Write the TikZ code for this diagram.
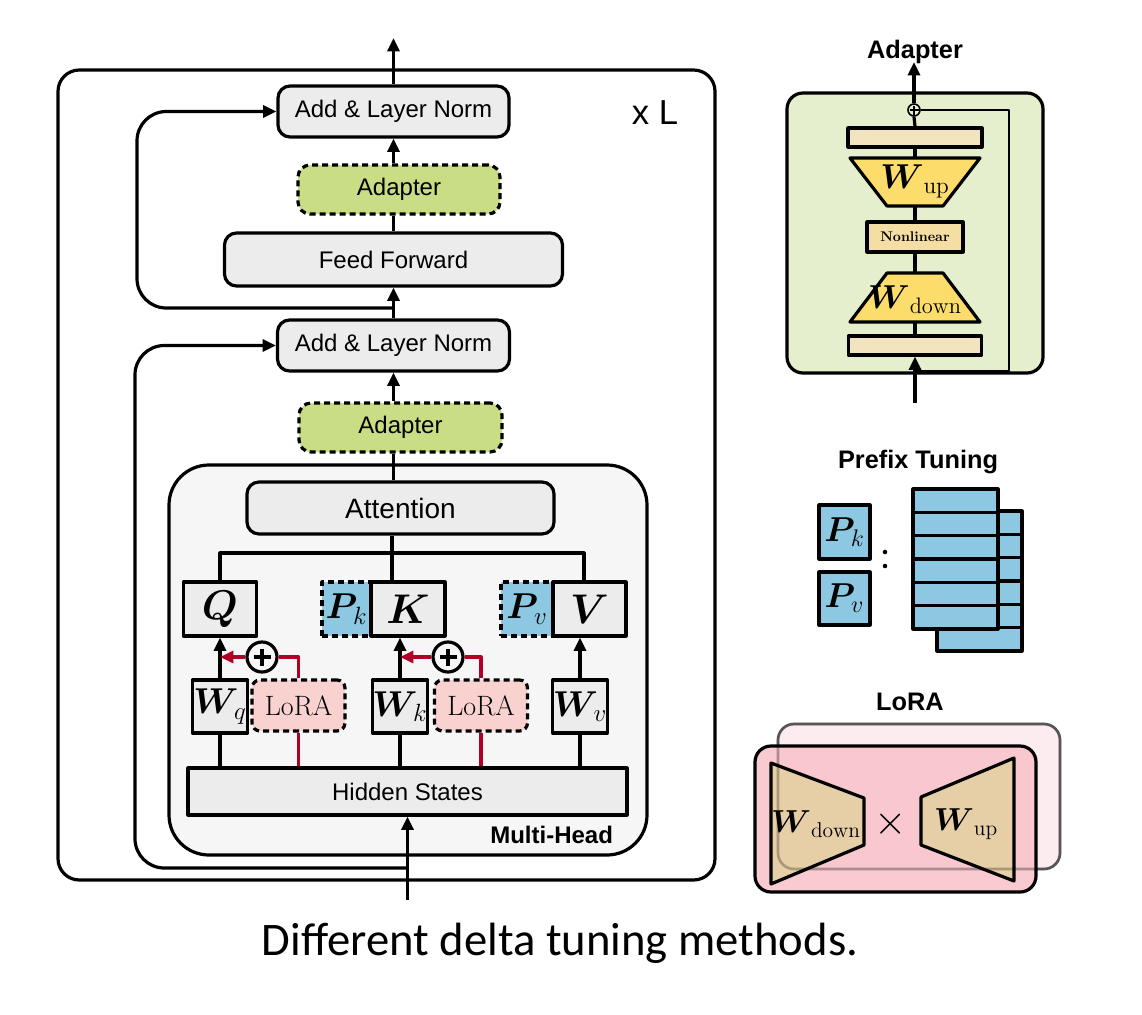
\documentclass[tikz,border=0pt]{standalone}
\usepackage{amsmath}
\usepackage{graphicx}
\usepackage{fontspec}
\setsansfont{Liberation Sans}
\newfontfamily\capfont{Carlito}
\usetikzlibrary{arrows.meta}
\newcommand{\sclmath}[2]{\scalebox{#1}{\fontsize{20}{20}\selectfont$#2$}}
\definecolor{boxgray}{RGB}{236,236,236}
\definecolor{mhgray}{RGB}{246,246,246}
\definecolor{adgreen}{RGB}{201,221,133}
\definecolor{lorapink}{RGB}{249,210,208}
\definecolor{pblue}{RGB}{140,200,226}
\definecolor{lred}{RGB}{176,0,38}
\definecolor{adbg}{RGB}{230,239,205}
\definecolor{beige}{RGB}{243,228,192}
\definecolor{wyellow}{RGB}{252,221,108}
\definecolor{nlbeige}{RGB}{244,222,164}
\definecolor{lpink}{RGB}{249,196,203}
\definecolor{lpinkback}{RGB}{253,236,239}
\definecolor{wtan}{RGB}{229,207,163}
\begin{document}
\begin{tikzpicture}[x=0.75pt,y=-0.75pt,line width=2.4pt,line join=round,
  >={Triangle[length=10pt,width=9pt]},
  txt/.style={font=\sffamily\fontsize{18}{20}\selectfont},
  rbox/.style={draw,fill=boxgray,rounded corners=9pt,inner sep=0pt,txt},
  adbox/.style={rbox,fill=adgreen,dash pattern=on 4.5pt off 3pt},
  sqbox/.style={draw,fill=boxgray,inner sep=0pt},
  pbox/.style={draw,fill=pblue,inner sep=0pt,dash pattern=on 4.5pt off 3pt},
  lbox/.style={draw,fill=lorapink,rounded corners=6pt,inner sep=0pt,dash pattern=on 4.5pt off 3pt,font=\fontsize{21}{22}\selectfont},
  redl/.style={draw=lred,line width=2.4pt},
  pluscirc/.style={circle,draw,inner sep=0pt,minimum size=22.5pt},
  ttl/.style={font=\sffamily\bfseries\fontsize{19}{20}\selectfont},
]
\fill[white] (0,0) rectangle (1142,1014);
\useasboundingbox (0,0) rectangle (1142,1014);

% ---------------- left: transformer layer ----------------
\node[draw,rounded corners=16pt,minimum width=492.75pt,minimum height=607.5pt,inner sep=0pt] (outer) at (386.5,475) {};
\node[draw,fill=mhgray,rounded corners=30pt,minimum width=358.5pt,minimum height=292.5pt,inner sep=0pt] (mh) at (408,660) {};
\node[anchor=base east,font=\sffamily\bfseries\fontsize{18}{18}\selectfont] (mhl) at (619,843) {Multi-Head};
\node[font=\sffamily\fontsize{26}{26}\selectfont] (xl) at (655,113) {x L};

\node[rbox,minimum width=173.25pt,minimum height=38.25pt] (ln1) at (393.5,111.5) {Add \& Layer Norm};
\node[adbox,minimum width=151.5pt,minimum height=36.75pt] (ad1) at (399,189.5) {Adapter};
\node[rbox,minimum width=253.5pt,minimum height=39.75pt] (ff) at (393.5,259.5) {Feed Forward};
\node[rbox,minimum width=174pt,minimum height=38.25pt] (ln2) at (393.5,345.5) {Add \& Layer Norm};
\node[adbox,minimum width=152.25pt,minimum height=36.75pt] (ad2) at (400.5,427.5) {Adapter};
\node[rbox,minimum width=230.25pt,minimum height=39pt,font=\sffamily\fontsize{21}{22}\selectfont] (att) at (400.5,508) {Attention};

\node[sqbox,minimum width=54.75pt,minimum height=40.5pt] (q) at (220,609) {\sclmath{1.5}{\boldsymbol{Q}}};
\node[pbox,minimum width=36.75pt,minimum height=40.5pt] (pk) at (346.5,609) {\sclmath{1.3}{\boldsymbol{P}_{\!k}}};
\node[sqbox,minimum width=55.5pt,minimum height=40.5pt] (k) at (408,609) {\sclmath{1.5}{\boldsymbol{K}}};
\node[pbox,minimum width=39pt,minimum height=40.5pt] (pv) at (527,609) {\sclmath{1.3}{\boldsymbol{P}_{\!v}}};
\node[sqbox,minimum width=54.75pt,minimum height=40.5pt] (v) at (589.5,609) {\sclmath{1.5}{\boldsymbol{V}}};

\node[sqbox,minimum width=41.25pt,minimum height=39.75pt] (wq) at (220,706.5) {\sclmath{1.3}{\boldsymbol{W}_{\!q}}};
\node[lbox,minimum width=69.75pt,minimum height=38.25pt] (lora1) at (298.5,705.5) {LoRA};
\node[sqbox,minimum width=40.5pt,minimum height=39.75pt] (wk) at (400,706.5) {\sclmath{1.3}{\boldsymbol{W}_{\!k}}};
\node[lbox,minimum width=69.75pt,minimum height=38.25pt] (lora2) at (481,705.5) {LoRA};
\node[sqbox,minimum width=40.5pt,minimum height=39.75pt] (wv) at (580,706.5) {\sclmath{1.3}{\boldsymbol{W}_{\!v}}};
\node[sqbox,txt,minimum width=329.25pt,minimum height=35.25pt] (hs) at (407.5,791.5) {Hidden States};

\node[pluscirc] (p1) at (262,657) {};
\node[pluscirc] (p2) at (448,657) {};
\draw (p1.center) ++(-8.5,0) -- ++(17,0) (p1.center) ++(0,-8.5) -- ++(0,17);
\draw (p2.center) ++(-8.5,0) -- ++(17,0) (p2.center) ++(0,-8.5) -- ++(0,17);

% coordinates for free ends
\coordinate (out) at (393.5,38);
\coordinate (in) at (407.5,900);
\coordinate (r1) at (393.5,308);
\coordinate (r2) at (407.5,868);
\coordinate (bar) at (392,553);
\coordinate (vtop) at (584,553);

% main flow
\draw[->] (ln1.north) -- (out);
\draw[->] (ad1.north -| ln1.south) -- (ln1.south);
\draw (ff.north) -- (ff.north |- ad1.south);
\draw[->] (ln2.north) -- (ln2.north |- ff.south);
\draw[->] (ad2.north -| ln2.south) -- (ln2.south);
\draw (att.north -| ln2.south) -- (ad2.south -| ln2.south);
\draw[->,rounded corners=22pt] (r1) -| (137,200) |- (ln1.west);
\draw[->,rounded corners=22pt] (r2) -| (135,600) |- (ln2.west);
\draw[->] (in) -- (hs.south);

% attention fan-out
\draw (att.south -| bar) -- (bar |- k.north);
\draw (q.north) |- (vtop) -- (vtop |- v.north);

% projections
\draw[->] (wq.north) -- (wq.north |- q.south);
\draw[->] (wk.north) -- (wk.north |- k.south);
\draw[->] (wv.north) -- (wv.north |- v.south);
\draw (wq.south) -- (wq.south |- hs.north);
\draw (wk.south) -- (wk.south |- hs.north);
\draw (wv.south) -- (wv.south |- hs.north);
\draw[redl] (lora1.south) -- (lora1.south |- hs.north);
\draw[redl] (lora2.south) -- (lora2.south |- hs.north);
\draw[redl] (lora1.north) |- (p1.east);
\draw[redl] (lora2.north) |- (p2.east);
\draw[redl,->,lred] (p1.west) -- (p1.west -| wq.north);
\draw[redl,->,lred] (p2.west) -- (p2.west -| wk.north);

% ---------------- right: Adapter ----------------
\node[ttl] (adt) at (915,52) {Adapter};
\node[draw,fill=adbg,rounded corners=12pt,minimum width=192pt,minimum height=210pt,inner sep=0pt] (adp) at (915,233) {};
\node[circle,draw,line width=1.2pt,minimum size=9pt,inner sep=0pt,fill=adbg] (ap) at (914,110) {};
\draw[line width=1pt] (ap.center) ++(-4.5,0) -- ++(9,0) (ap.center) ++(0,-4.5) -- ++(0,9);
\coordinate (aout) at (914,62);
\coordinate (byc) at (1009,371);
\coordinate (byend) at (915,371);
\coordinate (ain) at (915,403);
\draw[->] (ap.north) -- (aout);
\draw[line width=1.3pt] (ap.east) -| (byc) -- (byend);
\node[draw,fill=beige,minimum width=100.5pt,minimum height=14.25pt,inner sep=0pt] (tb) at (915,137.5) {};
\coordinate (wut) at (915,158);
\coordinate (wub) at (915,206);
\draw[fill=wyellow] (850,158) -- (980,158) -- (943,206) -- (887,206) -- cycle;
\node (wupl) at (915,181) {\sclmath{1.25}{\boldsymbol{W}_{\mathrm{up}}}};
\node[draw,fill=nlbeige,minimum width=72pt,minimum height=22.5pt,inner sep=0pt,font=\bfseries\fontsize{10.5}{11}\selectfont] (nl) at (915,237) {Nonlinear};
\coordinate (wdt) at (915,273);
\coordinate (wdb) at (915,322);
\draw[fill=wyellow] (887,273) -- (943,273) -- (980,322) -- (850,322) -- cycle;
\node (wdownl) at (915,300) {\sclmath{1.2}{\boldsymbol{W}_{\mathrm{down}}}};
\node[draw,fill=beige,minimum width=100pt,minimum height=14.25pt,inner sep=0pt] (bb) at (915,345.5) {};
\draw (ap.south) -- (tb.north);
\draw (tb.south) -- (wut);
\draw (wub) -- (nl.north);
\draw (nl.south) -- (wdt);
\draw (wdb) -- (bb.north);
\draw[->] (ain) -- (bb.south);

% ---------------- right: Prefix tuning ----------------
\node[ttl] (pt) at (918,462) {Prefix Tuning};
\node[draw,fill=pblue,inner sep=0pt,minimum width=38.25pt,minimum height=40.5pt] (ppk) at (844.5,532) {\sclmath{1.25}{\boldsymbol{P}_{\!k}}};
\node[draw,fill=pblue,inner sep=0pt,minimum width=38.25pt,minimum height=39.75pt] (ppv) at (844.5,598.5) {\sclmath{1.25}{\boldsymbol{P}_{\!v}}};
\fill (885,552) circle (1.7pt);
\fill (885,566) circle (1.7pt);
\foreach \i in {0,...,5} {
  \draw[fill=pblue] (937,{511+\i*23.33}) rectangle ++(85,23.33);
}
\foreach \i in {0,...,5} {
  \draw[fill=pblue] (913,{489+\i*23.33}) rectangle ++(85,23.33);
}

% ---------------- right: LoRA ----------------
\node[ttl] (lt) at (910,702) {LoRA};
\draw[draw=black!55,fill=lpinkback,rounded corners=12pt,line width=2pt] (778,724) rectangle (1060,869);
\draw[fill=lpink,fill opacity=0.88,rounded corners=12pt] (755,746) rectangle (1036,892);
\draw[fill=wtan,fill opacity=0.9] (771,763) -- (864,798) -- (864,845) -- (771,884) -- cycle;
\draw[fill=wtan,fill opacity=0.9] (921,797) -- (1014,758) -- (1014,881) -- (921,845) -- cycle;
\draw[draw=black,draw opacity=0.25,rounded corners=12pt,line width=2pt] (778,724) rectangle (1060,869);
\node (lwd) at (816,824) {\sclmath{1.15}{\boldsymbol{W}_{\mathrm{down}}}};
\node (lx) at (891,824) {\sclmath{1.5}{\times}};
\node (lwu) at (966,824) {\sclmath{1.15}{\boldsymbol{W}_{\mathrm{up}}}};

% caption
\node[font=\capfont\fontsize{35}{35}\selectfont] (cap) at (560,943) {Different delta tuning methods.};
\end{tikzpicture}
\end{document}
